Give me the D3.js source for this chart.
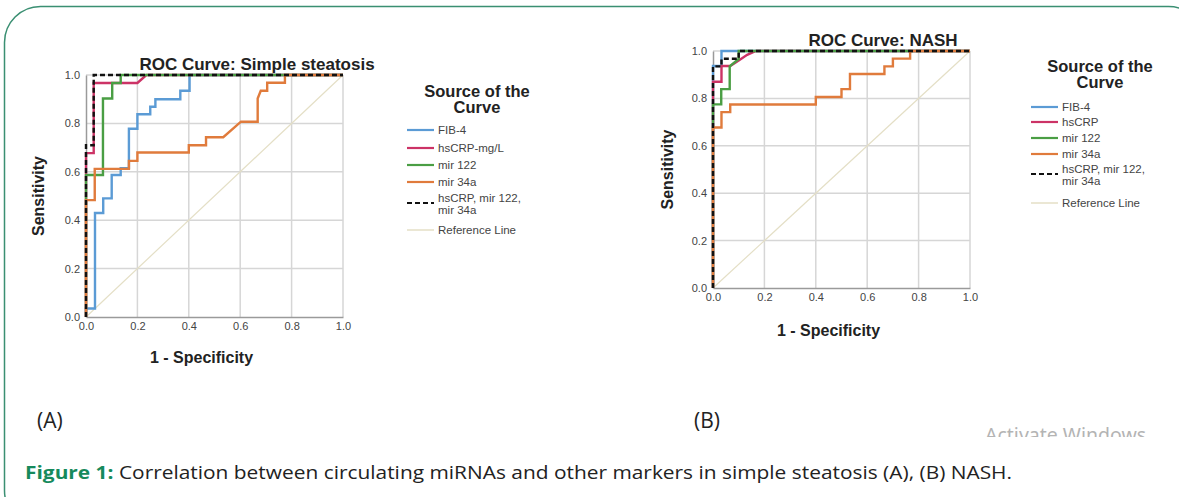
<!DOCTYPE html>
<html>
<head>
<meta charset="utf-8">
<script src="https://cdn.jsdelivr.net/npm/d3@7"></script>
<style>
  html, body { margin: 0; padding: 0; background: #fff; }
  svg text { font-family: "Liberation Sans", Arial, sans-serif; }
</style>
</head>
<body>
<div id="chart"></div>
<script>
// axis ticks shared by both panels
const TICKS = [0, 0.2, 0.4, 0.6, 0.8, 1.0];

// legend labels
const namesA = ["FIB-4", "hsCRP-mg/L", "mir 122", "mir 34a", "hsCRP, mir 122,|mir 34a", "Reference Line"];
const namesB = ["FIB-4", "hsCRP", "mir 122", "mir 34a", "hsCRP, mir 122,|mir 34a", "Reference Line"];

const COLORS = ["#5b9bd5", "#cc3366", "#4a9e44", "#e07b3c", "#111111", "#e4dfc6"];

// (A) simple steatosis, points are [1 - specificity, sensitivity]
const fib4A = [[0,0],[0,0.035],[0.035,0.035],[0.035,0.43],[0.067,0.43],[0.067,0.49],[0.1,0.49],[0.1,0.587],[0.135,0.587],[0.135,0.615],[0.167,0.615],[0.167,0.778],[0.2,0.778],[0.2,0.838],[0.25,0.838],[0.25,0.869],[0.27,0.869],[0.27,0.9],[0.367,0.9],[0.367,0.935],[0.403,0.935],[0.403,1],[1,1]];
const hscrpA = [[0,0],[0,0.677],[0.03,0.677],[0.03,0.967],[0.2,0.967],[0.235,1],[1,1]];
const mir122A = [[0,0],[0,0.587],[0.066,0.587],[0.066,0.903],[0.102,0.903],[0.102,0.967],[0.135,0.967],[0.135,1],[1,1]];
const mir34aA = [[0,0],[0,0.483],[0.034,0.483],[0.034,0.612],[0.167,0.612],[0.167,0.645],[0.2,0.645],[0.2,0.68],[0.4,0.68],[0.4,0.71],[0.467,0.71],[0.467,0.743],[0.534,0.743],[0.603,0.807],[0.668,0.807],[0.668,0.903],[0.68,0.935],[0.705,0.935],[0.705,0.968],[0.774,0.968],[0.774,1],[1,1]];
const comboA = [[0,0],[0,0.71],[0.03,0.71],[0.03,1],[1,1]];

// (B) NASH
const fib4B = [[0,0],[0,0.937],[0.033,0.937],[0.033,1],[1,1]];
const hscrpB = [[0,0],[0,0.87],[0.033,0.87],[0.033,0.937],[0.067,0.937],[0.1,0.96],[0.133,0.984],[0.167,1],[1,1]];
const mir122B = [[0,0],[0,0.775],[0.032,0.775],[0.032,0.839],[0.065,0.839],[0.065,0.935],[0.1,0.967],[0.1,1],[1,1]];
const mir34aB = [[0,0],[0,0.677],[0.033,0.677],[0.033,0.742],[0.067,0.742],[0.067,0.774],[0.4,0.774],[0.4,0.806],[0.5,0.806],[0.5,0.839],[0.533,0.839],[0.533,0.903],[0.667,0.903],[0.667,0.935],[0.7,0.935],[0.7,0.968],[0.767,0.968],[0.767,1],[1,1]];
const comboB = [[0,0],[0,0.935],[0.033,0.935],[0.033,0.967],[0.1,0.967],[0.1,1],[1,1]];

const referenceLine = [[0,0],[1,1]];

const W = 1179, H = 497;
const svg = d3.select("#chart").append("svg")
  .attr("width", W).attr("height", H);

// green rounded frame
svg.append("rect")
  .attr("x", 4.5).attr("y", 6.5)
  .attr("width", 1200).attr("height", 520)
  .attr("rx", 36)
  .attr("fill", "none")
  .attr("stroke", "#3a8f72")
  .attr("stroke-width", 1.5);

function drawPanel(cfg) {
  const x = d3.scaleLinear().domain([0, 1]).range([cfg.x0, cfg.x1]);
  const y = d3.scaleLinear().domain([0, 1]).range([cfg.y1, cfg.y0]);
  const g = svg.append("g");

  // grid
  g.append("g").selectAll("line.v").data(TICKS.slice(1)).join("line")
    .attr("x1", d => x(d)).attr("x2", d => x(d))
    .attr("y1", y(0)).attr("y2", y(1))
    .attr("stroke", "#d6d6d6").attr("stroke-width", 1.5);
  g.append("g").selectAll("line.h").data(TICKS.slice(1)).join("line")
    .attr("x1", x(0)).attr("x2", x(1))
    .attr("y1", d => y(d)).attr("y2", d => y(d))
    .attr("stroke", "#d6d6d6").attr("stroke-width", 1.5);

  // axes
  const ax = g.append("g").attr("transform", `translate(0,${y(0)})`)
    .call(d3.axisBottom(x).tickValues(TICKS).tickFormat(d3.format(".1f")).tickSize(0).tickPadding(5));
  const ay = g.append("g").attr("transform", `translate(${x(0)},0)`)
    .call(d3.axisLeft(y).tickValues(TICKS).tickFormat(d3.format(".1f")).tickSize(0).tickPadding(6));
  [ax, ay].forEach(a => {
    a.select(".domain").attr("stroke", "#9a9a9a").attr("stroke-width", 1.5);
    a.selectAll("text").attr("fill", "#444").style("font-size", "11px");
  });

  // curves
  const line = d3.line().x(d => x(d[0])).y(d => y(d[1]));
  g.append("path").datum(referenceLine).attr("d", line)
    .attr("fill", "none").attr("stroke", COLORS[5]).attr("stroke-width", 1.2);
  cfg.series.forEach((s, i) => {
    g.append("path").datum(s).attr("d", line)
      .attr("fill", "none")
      .attr("stroke", COLORS[i])
      .attr("stroke-width", 2.4)
      .attr("stroke-dasharray", i === 4 ? "5,3" : null);
  });

  // titles
  g.append("text").attr("x", cfg.titleX).attr("y", cfg.titleY)
    .attr("text-anchor", "middle").attr("font-weight", "bold")
    .attr("font-size", 17).attr("fill", "#222").text(cfg.title);
  g.append("text")
    .attr("transform", `translate(${cfg.yLabX},${(y(0) + y(1)) / 2}) rotate(-90)`)
    .attr("text-anchor", "middle").attr("font-weight", "bold")
    .attr("font-size", 16).attr("fill", "#222").text("Sensitivity");
  g.append("text").attr("x", (x(0) + x(1)) / 2 - 13).attr("y", cfg.xLabY)
    .attr("text-anchor", "middle").attr("font-weight", "bold")
    .attr("font-size", 16).attr("fill", "#222").text("1 - Specificity");

  // legend
  const lg = g.append("g");
  ["Source of the", "Curve"].forEach((t, i) => {
    lg.append("text").attr("x", cfg.legCx).attr("y", cfg.legTitleY + i * cfg.legTitleGap)
      .attr("text-anchor", "middle").attr("font-weight", "bold")
      .attr("font-size", 16.5).attr("fill", "#222").text(t);
  });
  cfg.names.forEach((n, i) => {
    const yy = cfg.legRows[i];
    lg.append("line")
      .attr("x1", cfg.legX).attr("x2", cfg.legX + cfg.legLen)
      .attr("y1", yy).attr("y2", yy)
      .attr("stroke", COLORS[i])
      .attr("stroke-width", i === 5 ? 1.5 : 2.2)
      .attr("stroke-dasharray", i === 4 ? "5,3" : null);
    const parts = n.split("|");
    parts.forEach((part, j) => {
      lg.append("text").attr("x", cfg.legX + cfg.legLen + 4)
        .attr("y", yy + (parts.length > 1 ? -1 : 4) + j * 12)
        .attr("font-size", 11.5).attr("fill", "#444").text(part);
    });
  });
}

drawPanel({
  x0: 86, x1: 343, y0: 75, y1: 317,
  title: "ROC Curve: Simple steatosis", titleX: 257, titleY: 70,
  yLabX: 44, xLabY: 363,
  series: [fib4A, hscrpA, mir122A, mir34aA, comboA],
  names: namesA,
  legCx: 477, legTitleY: 97, legTitleGap: 16,
  legX: 407, legLen: 27,
  legRows: [130, 148, 165, 182, 203, 230]
});

drawPanel({
  x0: 713, x1: 970, y0: 51, y1: 288,
  title: "ROC Curve: NASH", titleX: 883, titleY: 46,
  yLabX: 673, xLabY: 336,
  series: [fib4B, hscrpB, mir122B, mir34aB, comboB],
  names: namesB,
  legCx: 1100, legTitleY: 72, legTitleGap: 16,
  legX: 1031, legLen: 27,
  legRows: [107, 122, 138, 154, 174, 203]
});

// panel letters and caption
const capFont = "'Open Sans', 'Noto Sans', sans-serif";
svg.append("text").attr("x", 37).attr("y", 428).attr("font-size", 21)
  .style("font-family", capFont).attr("fill", "#222").text("(A)");
svg.append("text").attr("x", 694).attr("y", 428).attr("font-size", 21)
  .style("font-family", capFont).attr("fill", "#222").text("(B)");

svg.append("clipPath").attr("id", "wm").append("rect")
  .attr("x", 900).attr("y", 400).attr("width", 300).attr("height", 37);
svg.append("text").attr("x", 985).attr("y", 442).attr("font-size", 19.5)
  .attr("clip-path", "url(#wm)")
  .style("font-family", "'Noto Sans', sans-serif").attr("fill", "#b4b4b4").text("Activate Windows");

const cap = svg.append("text").attr("x", 25).attr("y", 479).attr("font-size", 18)
  .attr("textLength", 987).attr("lengthAdjust", "spacingAndGlyphs")
  .style("font-family", capFont).attr("fill", "#222");
cap.append("tspan").attr("fill", "#168a5c").attr("font-weight", "bold").text("Figure 1:");
cap.append("tspan").text(" Correlation between circulating miRNAs and other markers in simple steatosis (A), (B) NASH.");
</script>
</body>
</html>
